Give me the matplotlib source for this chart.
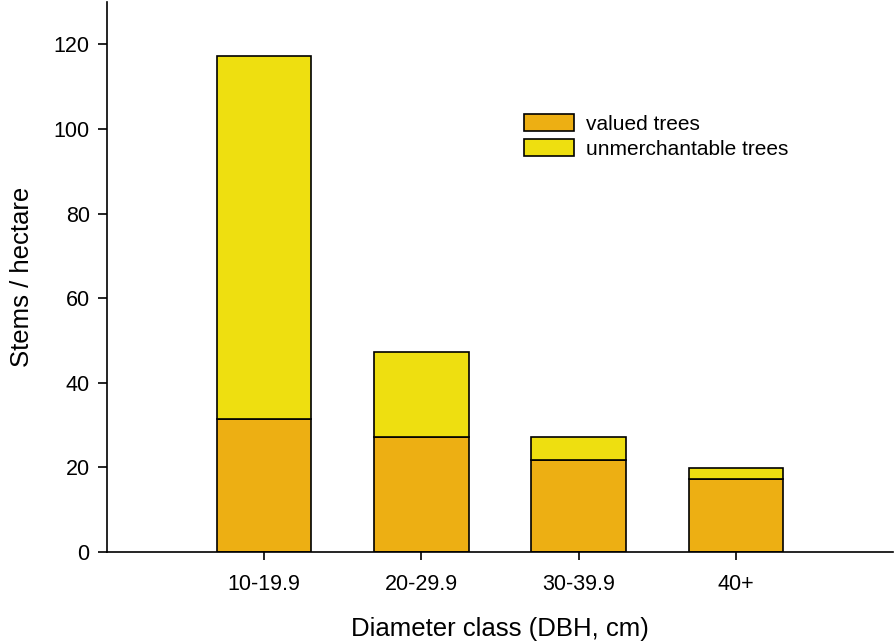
import matplotlib
matplotlib.use("Agg")
import matplotlib.pyplot as plt

categories = ["10-19.9", "20-29.9", "30-39.9", "40+"]
valued = [31.5, 27.2, 21.8, 17.3]
unmerch = [85.7, 20.1, 5.4, 2.6]

plt.rcParams["font.family"] = ["Liberation Sans", "DejaVu Sans"]

fig = plt.figure(figsize=(8.95, 6.43), dpi=100)
ax = fig.add_axes([107 / 895, 91 / 643, 786 / 895, 550 / 643])

x = range(1, len(categories) + 1)
ax.bar(x, valued, width=0.6, color="#EDAF13", edgecolor="black",
       linewidth=1.2, label="valued trees")
ax.bar(x, unmerch, width=0.6, bottom=valued, color="#EEDF10",
       edgecolor="black", linewidth=1.2, label="unmerchantable trees")

ax.set_xlim(0, 5)
ax.set_ylim(0, 130)
ax.set_xticks(list(x))
ax.set_xticklabels(categories)
ax.set_yticks(range(0, 121, 20))
ax.tick_params(direction="out", length=6.5, width=1.2, labelsize=15.5, pad=6)
ax.tick_params(axis="x", length=6, pad=10)
for s in ("top", "right"):
    ax.spines[s].set_visible(False)
for s in ("left", "bottom"):
    ax.spines[s].set_linewidth(1.2)

ax.set_xlabel("Diameter class (DBH, cm)", fontsize=18.5, labelpad=16)
ax.set_ylabel("Stems / hectare", fontsize=18.5, labelpad=14)

ax.legend(loc="upper left", bbox_to_anchor=(0.517, 0.815), frameon=False,
          fontsize=15, handlelength=2.4, handleheight=0.9,
          labelspacing=0.25, handletextpad=0.6, borderpad=0)

fig.savefig("out.png", dpi=100)
